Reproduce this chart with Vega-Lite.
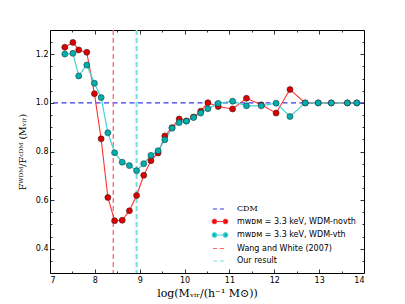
{
  "$schema": "https://vega.github.io/schema/vega-lite/v6.json",
  "width": 314,
  "height": 243,
  "autosize": {"type": "none"},
  "padding": {"left": 50, "top": 30, "right": 41, "bottom": 31},
  "config": {
    "view": {"stroke": "#000", "strokeWidth": 1},
    "axis": {"domain": false, "grid": false, "labelFont": "DejaVu Sans", "labelFontSize": 8, "labelColor": "#000", "tickColor": "#000", "tickWidth": 0.8, "titleColor": "#000", "titleFontWeight": "normal"}
  },
  "datasets": {
    "curves": [
      {"series": "mᴡᴅᴍ = 3.3 keV, WDM-novth", "x": 7.33, "y": 1.229},
      {"series": "mᴡᴅᴍ = 3.3 keV, WDM-novth", "x": 7.51, "y": 1.249},
      {"series": "mᴡᴅᴍ = 3.3 keV, WDM-novth", "x": 7.64, "y": 1.218},
      {"series": "mᴡᴅᴍ = 3.3 keV, WDM-novth", "x": 7.82, "y": 1.208},
      {"series": "mᴡᴅᴍ = 3.3 keV, WDM-novth", "x": 7.99, "y": 1.038},
      {"series": "mᴡᴅᴍ = 3.3 keV, WDM-novth", "x": 8.14, "y": 0.852},
      {"series": "mᴡᴅᴍ = 3.3 keV, WDM-novth", "x": 8.29, "y": 0.611},
      {"series": "mᴡᴅᴍ = 3.3 keV, WDM-novth", "x": 8.44, "y": 0.515},
      {"series": "mᴡᴅᴍ = 3.3 keV, WDM-novth", "x": 8.61, "y": 0.517},
      {"series": "mᴡᴅᴍ = 3.3 keV, WDM-novth", "x": 8.77, "y": 0.556},
      {"series": "mᴡᴅᴍ = 3.3 keV, WDM-novth", "x": 8.93, "y": 0.619},
      {"series": "mᴡᴅᴍ = 3.3 keV, WDM-novth", "x": 9.09, "y": 0.702},
      {"series": "mᴡᴅᴍ = 3.3 keV, WDM-novth", "x": 9.25, "y": 0.762},
      {"series": "mᴡᴅᴍ = 3.3 keV, WDM-novth", "x": 9.41, "y": 0.794},
      {"series": "mᴡᴅᴍ = 3.3 keV, WDM-novth", "x": 9.56, "y": 0.864},
      {"series": "mᴡᴅᴍ = 3.3 keV, WDM-novth", "x": 9.72, "y": 0.898},
      {"series": "mᴡᴅᴍ = 3.3 keV, WDM-novth", "x": 9.88, "y": 0.934},
      {"series": "mᴡᴅᴍ = 3.3 keV, WDM-novth", "x": 10.04, "y": 0.926},
      {"series": "mᴡᴅᴍ = 3.3 keV, WDM-novth", "x": 10.2, "y": 0.942},
      {"series": "mᴡᴅᴍ = 3.3 keV, WDM-novth", "x": 10.36, "y": 0.966},
      {"series": "mᴡᴅᴍ = 3.3 keV, WDM-novth", "x": 10.52, "y": 1.001},
      {"series": "mᴡᴅᴍ = 3.3 keV, WDM-novth", "x": 10.75, "y": 0.985},
      {"series": "mᴡᴅᴍ = 3.3 keV, WDM-novth", "x": 11.07, "y": 0.975},
      {"series": "mᴡᴅᴍ = 3.3 keV, WDM-novth", "x": 11.38, "y": 1.019},
      {"series": "mᴡᴅᴍ = 3.3 keV, WDM-novth", "x": 11.71, "y": 0.992},
      {"series": "mᴡᴅᴍ = 3.3 keV, WDM-novth", "x": 12.04, "y": 0.958},
      {"series": "mᴡᴅᴍ = 3.3 keV, WDM-novth", "x": 12.35, "y": 1.055},
      {"series": "mᴡᴅᴍ = 3.3 keV, WDM-novth", "x": 12.69, "y": 1.0},
      {"series": "mᴡᴅᴍ = 3.3 keV, WDM-novth", "x": 12.98, "y": 1.0},
      {"series": "mᴡᴅᴍ = 3.3 keV, WDM-novth", "x": 13.27, "y": 1.0},
      {"series": "mᴡᴅᴍ = 3.3 keV, WDM-novth", "x": 13.63, "y": 1.0},
      {"series": "mᴡᴅᴍ = 3.3 keV, WDM-novth", "x": 13.84, "y": 1.0},
      {"series": "mᴡᴅᴍ = 3.3 keV, WDM-vth", "x": 7.33, "y": 1.201},
      {"series": "mᴡᴅᴍ = 3.3 keV, WDM-vth", "x": 7.51, "y": 1.204},
      {"series": "mᴡᴅᴍ = 3.3 keV, WDM-vth", "x": 7.64, "y": 1.111},
      {"series": "mᴡᴅᴍ = 3.3 keV, WDM-vth", "x": 7.82, "y": 1.156},
      {"series": "mᴡᴅᴍ = 3.3 keV, WDM-vth", "x": 7.99, "y": 1.081},
      {"series": "mᴡᴅᴍ = 3.3 keV, WDM-vth", "x": 8.14, "y": 1.022},
      {"series": "mᴡᴅᴍ = 3.3 keV, WDM-vth", "x": 8.29, "y": 0.877},
      {"series": "mᴡᴅᴍ = 3.3 keV, WDM-vth", "x": 8.44, "y": 0.795},
      {"series": "mᴡᴅᴍ = 3.3 keV, WDM-vth", "x": 8.61, "y": 0.756},
      {"series": "mᴡᴅᴍ = 3.3 keV, WDM-vth", "x": 8.77, "y": 0.742},
      {"series": "mᴡᴅᴍ = 3.3 keV, WDM-vth", "x": 8.93, "y": 0.721},
      {"series": "mᴡᴅᴍ = 3.3 keV, WDM-vth", "x": 9.09, "y": 0.75},
      {"series": "mᴡᴅᴍ = 3.3 keV, WDM-vth", "x": 9.25, "y": 0.784},
      {"series": "mᴡᴅᴍ = 3.3 keV, WDM-vth", "x": 9.41, "y": 0.803},
      {"series": "mᴡᴅᴍ = 3.3 keV, WDM-vth", "x": 9.56, "y": 0.848},
      {"series": "mᴡᴅᴍ = 3.3 keV, WDM-vth", "x": 9.72, "y": 0.896},
      {"series": "mᴡᴅᴍ = 3.3 keV, WDM-vth", "x": 9.88, "y": 0.919},
      {"series": "mᴡᴅᴍ = 3.3 keV, WDM-vth", "x": 10.04, "y": 0.925},
      {"series": "mᴡᴅᴍ = 3.3 keV, WDM-vth", "x": 10.2, "y": 0.94},
      {"series": "mᴡᴅᴍ = 3.3 keV, WDM-vth", "x": 10.36, "y": 0.958},
      {"series": "mᴡᴅᴍ = 3.3 keV, WDM-vth", "x": 10.52, "y": 0.976},
      {"series": "mᴡᴅᴍ = 3.3 keV, WDM-vth", "x": 10.75, "y": 0.998},
      {"series": "mᴡᴅᴍ = 3.3 keV, WDM-vth", "x": 11.07, "y": 1.007},
      {"series": "mᴡᴅᴍ = 3.3 keV, WDM-vth", "x": 11.38, "y": 0.988},
      {"series": "mᴡᴅᴍ = 3.3 keV, WDM-vth", "x": 11.71, "y": 0.988},
      {"series": "mᴡᴅᴍ = 3.3 keV, WDM-vth", "x": 12.04, "y": 0.999},
      {"series": "mᴡᴅᴍ = 3.3 keV, WDM-vth", "x": 12.35, "y": 0.944},
      {"series": "mᴡᴅᴍ = 3.3 keV, WDM-vth", "x": 12.69, "y": 1.0},
      {"series": "mᴡᴅᴍ = 3.3 keV, WDM-vth", "x": 12.98, "y": 1.0},
      {"series": "mᴡᴅᴍ = 3.3 keV, WDM-vth", "x": 13.27, "y": 1.0},
      {"series": "mᴡᴅᴍ = 3.3 keV, WDM-vth", "x": 13.63, "y": 1.0},
      {"series": "mᴡᴅᴍ = 3.3 keV, WDM-vth", "x": 13.84, "y": 1.0}
    ],
    "cdm": [{"series": "CDM", "y": 1.0}],
    "vlines": [
      {"series": "Wang and White (2007)", "x": 8.41},
      {"series": "Our result", "x": 8.93}
    ]
  },
  "resolve": {"axis": {"x": "independent", "y": "independent"}},
  "layer": [
    {
      "data": {"name": "cdm"},
      "mark": {"type": "rule", "strokeWidth": 1.2, "strokeDash": [5, 3.5]},
      "encoding": {
        "y": {"field": "y", "type": "quantitative", "scale": {"domain": [0.3, 1.3], "nice": false, "zero": false}, "axis": null},
        "color": {
          "field": "series", "type": "nominal",
          "scale": {"domain": ["CDM", "mᴡᴅᴍ = 3.3 keV, WDM-novth", "mᴡᴅᴍ = 3.3 keV, WDM-vth", "Wang and White (2007)", "Our result"], "range": ["#3a3af2", "#ff3333", "#45d2d2", "#ff6a6a", "#72dfdf"]},
          "legend": {
            "title": null, "orient": "bottom-right", "offset": 8, "padding": 0,
            "symbolSize": 100, "labelOffset": 11, "rowPadding": 2.5,
            "labelFont": "DejaVu Sans", "labelFontSize": 8, "labelColor": "#000",
            "encode": {
              "symbols": {"update": {
                "shape": {"signal": "indexof(['CDM','Wang and White (2007)','Our result'], datum.value) >= 0 ? 'M-1.4,0L1.4,0' : 'M-1.1,0L1.1,0M-1.55,0A0.45,0.45,0,1,0,-0.65,0A0.45,0.45,0,1,0,-1.55,0ZM0.65,0A0.45,0.45,0,1,0,1.55,0A0.45,0.45,0,1,0,0.65,0Z'"},
                "strokeDash": {"signal": "indexof(['CDM','Wang and White (2007)','Our result'], datum.value) >= 0 ? [4,3] : [1,0]"},
                "stroke": {"scale": "color", "field": "value"},
                "fill": {"signal": "datum.value == 'mᴡᴅᴍ = 3.3 keV, WDM-novth' ? '#dd0000' : (datum.value == 'mᴡᴅᴍ = 3.3 keV, WDM-vth' ? '#00afaf' : 'transparent')"},
                "strokeWidth": {"value": 1.1},
                "opacity": {"value": 1}
              }},
              "labels": {"update": {
                "font": {"signal": "datum.value == 'CDM' ? 'DejaVu Serif' : 'DejaVu Sans'"}
              }}
            }
          }
        }
      }
    },
    {
      "data": {"name": "vlines"},
      "transform": [{"filter": "datum.series == 'Wang and White (2007)'"}],
      "mark": {"type": "rule", "strokeWidth": 1.3, "strokeDash": [5, 3]},
      "encoding": {
        "x": {"field": "x", "type": "quantitative", "scale": {"domain": [7, 14], "nice": false, "zero": false}, "axis": null},
        "color": {"field": "series", "type": "nominal"}
      }
    },
    {
      "data": {"name": "vlines"},
      "transform": [{"filter": "datum.series == 'Our result'"}],
      "mark": {"type": "rule", "strokeWidth": 2, "strokeDash": [5, 3]},
      "encoding": {
        "x": {"field": "x", "type": "quantitative", "scale": {"domain": [7, 14], "nice": false, "zero": false}, "axis": null},
        "color": {"field": "series", "type": "nominal"}
      }
    },
    {
      "data": {"name": "curves"},
      "transform": [{"filter": "datum.series == 'mᴡᴅᴍ = 3.3 keV, WDM-novth'"}],
      "mark": {"type": "line", "strokeWidth": 1.1},
      "encoding": {
        "x": {"field": "x", "type": "quantitative", "scale": {"domain": [7, 14], "nice": false, "zero": false},
          "axis": {"orient": "bottom", "values": [7, 8, 9, 10, 11, 12, 13, 14], "format": "d", "tickSize": -4, "labelPadding": 7, "title": "log(Mᵥᵢᵣ/(h⁻¹ M⊙))", "titleFont": "DejaVu Serif", "titleFontSize": 11, "titlePadding": 3}},
        "y": {"field": "y", "type": "quantitative", "scale": {"domain": [0.3, 1.3], "nice": false, "zero": false},
          "axis": {"orient": "left", "values": [0.4, 0.6, 0.8, 1.0, 1.2], "format": ".1f", "tickSize": -4, "labelPadding": 6, "title": "Fᵂᴰᴹ/Fᶜᴰᴹ (Mᵥᵢᵣ)", "titleFont": "DejaVu Serif", "titleFontSize": 9.5, "titlePadding": 8}},
        "color": {"field": "series", "type": "nominal"}
      }
    },
    {
      "data": {"name": "curves"},
      "transform": [{"filter": "datum.series == 'mᴡᴅᴍ = 3.3 keV, WDM-vth'"}],
      "mark": {"type": "line", "strokeWidth": 1.2},
      "encoding": {
        "x": {"field": "x", "type": "quantitative", "scale": {"domain": [7, 14], "nice": false, "zero": false},
          "axis": {"orient": "top", "values": [7, 8, 9, 10, 11, 12, 13, 14], "tickSize": -4, "labels": false, "title": null}},
        "y": {"field": "y", "type": "quantitative", "scale": {"domain": [0.3, 1.3], "nice": false, "zero": false},
          "axis": {"orient": "right", "values": [0.4, 0.6, 0.8, 1.0, 1.2], "tickSize": -4, "labels": false, "title": null}},
        "color": {"field": "series", "type": "nominal"}
      }
    },
    {
      "data": {"name": "curves"},
      "transform": [{"filter": "datum.series == 'mᴡᴅᴍ = 3.3 keV, WDM-novth'"}],
      "mark": {"type": "point", "filled": true, "size": 36, "stroke": "#3a2020", "strokeWidth": 0.6, "opacity": 1},
      "encoding": {
        "x": {"field": "x", "type": "quantitative", "scale": {"domain": [7, 14], "nice": false, "zero": false},
          "axis": {"orient": "bottom", "values": [7.5, 8.5, 9.5, 10.5, 11.5, 12.5, 13.5], "tickSize": -2, "labels": false, "title": null}},
        "y": {"field": "y", "type": "quantitative", "scale": {"domain": [0.3, 1.3], "nice": false, "zero": false},
          "axis": {"orient": "left", "values": [0.35, 0.45, 0.5, 0.55, 0.65, 0.7, 0.75, 0.85, 0.9, 0.95, 1.05, 1.1, 1.15, 1.25], "tickSize": -2, "labels": false, "title": null}},
        "fill": {"field": "series", "type": "nominal", "scale": {"domain": ["mᴡᴅᴍ = 3.3 keV, WDM-novth", "mᴡᴅᴍ = 3.3 keV, WDM-vth"], "range": ["#dd0000", "#00afaf"]}, "legend": null}
      }
    },
    {
      "data": {"name": "curves"},
      "transform": [{"filter": "datum.series == 'mᴡᴅᴍ = 3.3 keV, WDM-vth'"}],
      "mark": {"type": "point", "filled": true, "size": 36, "stroke": "#203a3a", "strokeWidth": 0.6, "opacity": 1},
      "encoding": {
        "x": {"field": "x", "type": "quantitative", "scale": {"domain": [7, 14], "nice": false, "zero": false},
          "axis": {"orient": "top", "values": [7.5, 8.5, 9.5, 10.5, 11.5, 12.5, 13.5], "tickSize": -2, "labels": false, "title": null}},
        "y": {"field": "y", "type": "quantitative", "scale": {"domain": [0.3, 1.3], "nice": false, "zero": false},
          "axis": {"orient": "right", "values": [0.35, 0.45, 0.5, 0.55, 0.65, 0.7, 0.75, 0.85, 0.9, 0.95, 1.05, 1.1, 1.15, 1.25], "tickSize": -2, "labels": false, "title": null}},
        "fill": {"field": "series", "type": "nominal", "scale": {"domain": ["mᴡᴅᴍ = 3.3 keV, WDM-novth", "mᴡᴅᴍ = 3.3 keV, WDM-vth"], "range": ["#dd0000", "#00afaf"]}, "legend": null}
      }
    }
  ]
}
